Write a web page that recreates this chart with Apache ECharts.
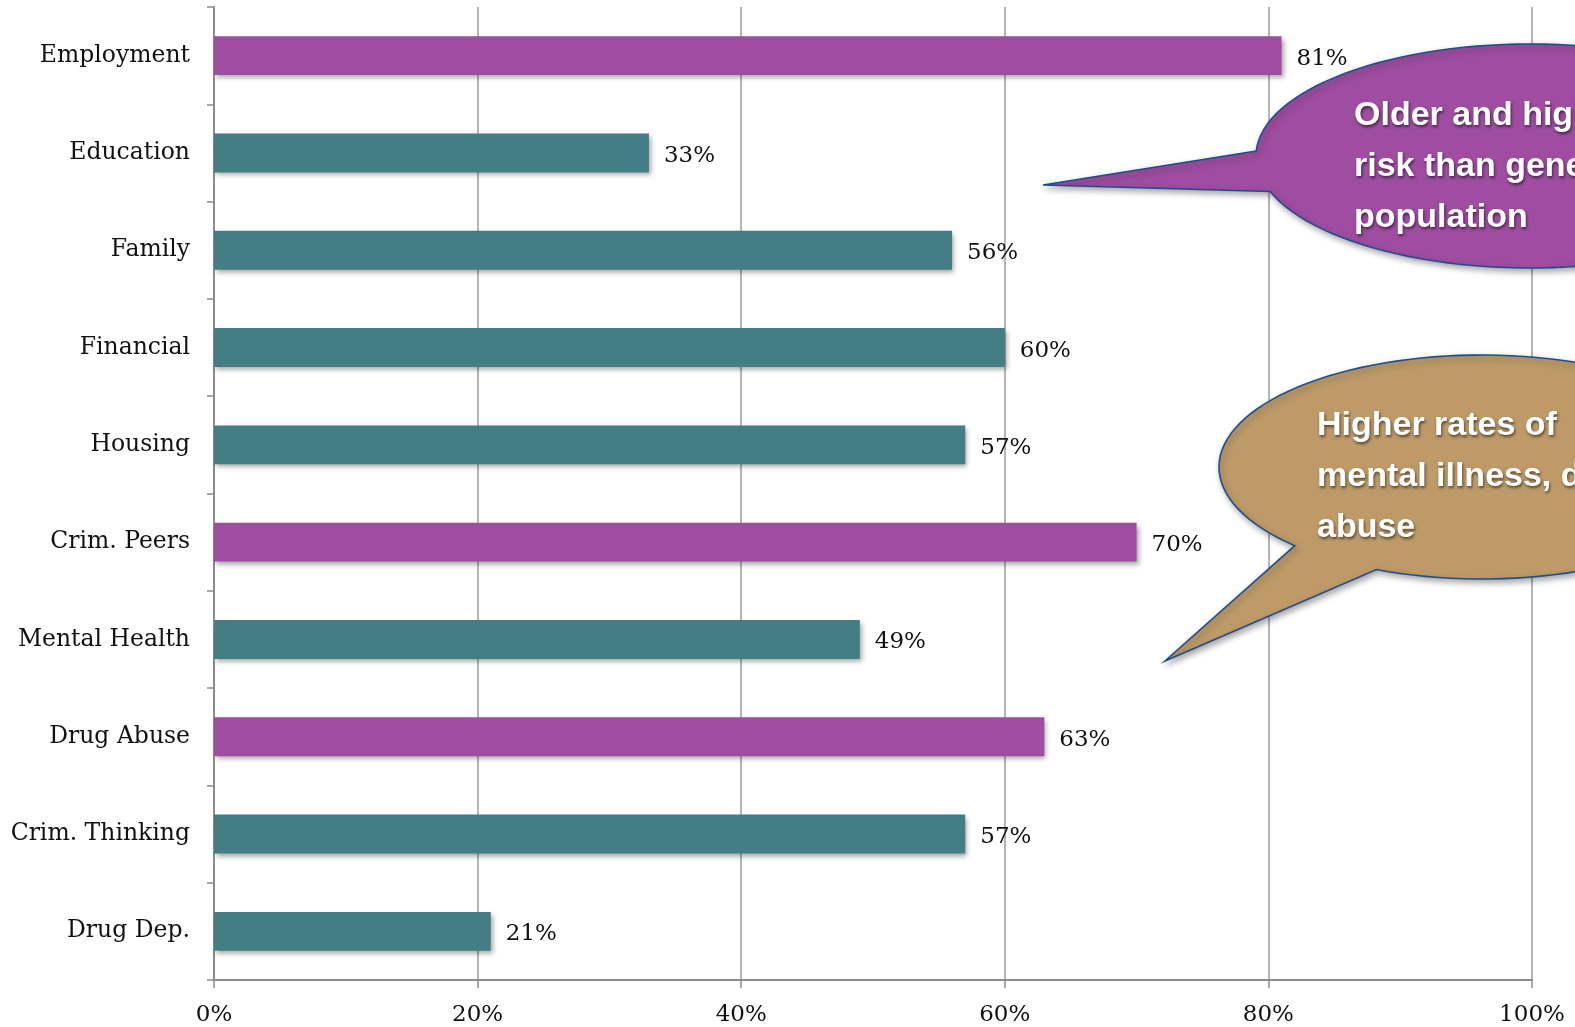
<!DOCTYPE html>
<html>
<head>
<meta charset="utf-8">
<script src="https://cdn.jsdelivr.net/npm/echarts@6/dist/echarts.min.js"></script>
<style>
html,body{margin:0;padding:0;background:#fff;}
#chart{width:1575px;height:1027px;}
</style>
</head>
<body>
<div id="chart"></div>
<script>
const categories = ['Employment','Education','Family','Financial','Housing','Crim. Peers','Mental Health','Drug Abuse','Crim. Thinking','Drug Dep.'];
const values = [81,33,56,60,57,70,49,63,57,21];
const highlighted = ['Employment','Crim. Peers','Drug Abuse'];
const axisMin = 0, axisMax = 100, axisStep = 20;
const callout1Lines = ['Older and higher','risk than general','population'];
const callout2Lines = ['Higher rates of','mental illness, drug','abuse'];

const PURPLE = '#9E4DA0';
const TEAL = '#437E85';
const SERIF = '"DejaVu Serif", "Liberation Serif", serif';

function bubblePoints(cx, cy, rx, ry, base1, base2, tip) {
  let a1 = Math.atan2((base1[1]-cy)/ry, (base1[0]-cx)/rx);
  let a2 = Math.atan2((base2[1]-cy)/ry, (base2[0]-cx)/rx);
  while (a2 <= a1) a2 += Math.PI*2;
  const pts = [];
  const n = 120;
  for (let i = 0; i <= n; i++) {
    const t = a1 + (a2-a1)*i/n;
    pts.push([cx + rx*Math.cos(t), cy + ry*Math.sin(t)]);
  }
  pts.push(tip);
  return pts;
}

function callout(cx, cy, rx, ry, base1, base2, tip, fill, lines, tx, ty0) {
  const els = [{
    type: 'polygon',
    z: 100,
    shape: { points: bubblePoints(cx, cy, rx, ry, base1, base2, tip) },
    style: {
      fill: fill, stroke: '#1F4E8F', lineWidth: 1.6,
      shadowBlur: 6, shadowOffsetX: 2, shadowOffsetY: 3, shadowColor: 'rgba(0,0,0,0.35)'
    }
  }];
  lines.forEach((ln, i) => {
    els.push({
      type: 'text', z: 101,
      x: tx, y: ty0 + i*51,
      style: {
        text: ln, fill: '#ffffff',
        font: 'bold 34px "Liberation Sans", Arial, sans-serif',
        verticalAlign: 'middle', align: 'left',
        textShadowColor: 'rgba(0,0,0,0.55)', textShadowBlur: 3,
        textShadowOffsetX: 1, textShadowOffsetY: 2
      }
    });
  });
  return els;
}

const chart = echarts.init(document.getElementById('chart'), null, {renderer: 'canvas'});
chart.setOption({
  animation: false,
  backgroundColor: '#ffffff',
  grid: { left: 214, right: 43, top: 7, bottom: 46, containLabel: false },
  xAxis: {
    type: 'value', min: axisMin, max: axisMax, interval: axisStep,
    axisLine: { show: true, lineStyle: { color: '#8c8c8c', width: 2 } },
    axisTick: { show: true, length: 8, lineStyle: { color: '#8c8c8c', width: 1.5 } },
    splitLine: { show: true, lineStyle: { color: '#9c9c9c', width: 1.5 } },
    axisLabel: {
      formatter: v => v + '%', color: '#111', fontFamily: SERIF, fontSize: 23, margin: 24
    }
  },
  yAxis: {
    type: 'category', data: categories, inverse: true,
    axisLine: { show: true, lineStyle: { color: '#8c8c8c', width: 2 } },
    axisTick: { show: true, length: 7, alignWithLabel: false, lineStyle: { color: '#8c8c8c', width: 1.5 } },
    splitLine: { show: false },
    axisLabel: { color: '#111', fontFamily: SERIF, fontSize: 23.5, margin: 24 }
  },
  series: [{
    type: 'bar',
    data: values.map((v, i) => ({
      value: v,
      itemStyle: { color: highlighted.includes(categories[i]) ? PURPLE : TEAL }
    })),
    barWidth: '40%',
    itemStyle: {
      shadowBlur: 5, shadowOffsetX: 2, shadowOffsetY: 3, shadowColor: 'rgba(0,0,0,0.35)'
    },
    label: {
      show: true, position: 'right', distance: 15, offset: [0, 3],
      formatter: p => p.value + '%',
      color: '#111', fontFamily: SERIF, fontSize: 23
    }
  }],
  graphic: [
    ...callout(1530, 156, 274, 112, [1258, 151], [1274, 191], [1043, 185], PURPLE, callout1Lines, 1354, 116),
    ...callout(1482, 467, 263, 112, [1294, 546], [1376, 570], [1165, 661], '#BD9A68', callout2Lines, 1317, 426)
  ]
});
</script>
</body>
</html>
